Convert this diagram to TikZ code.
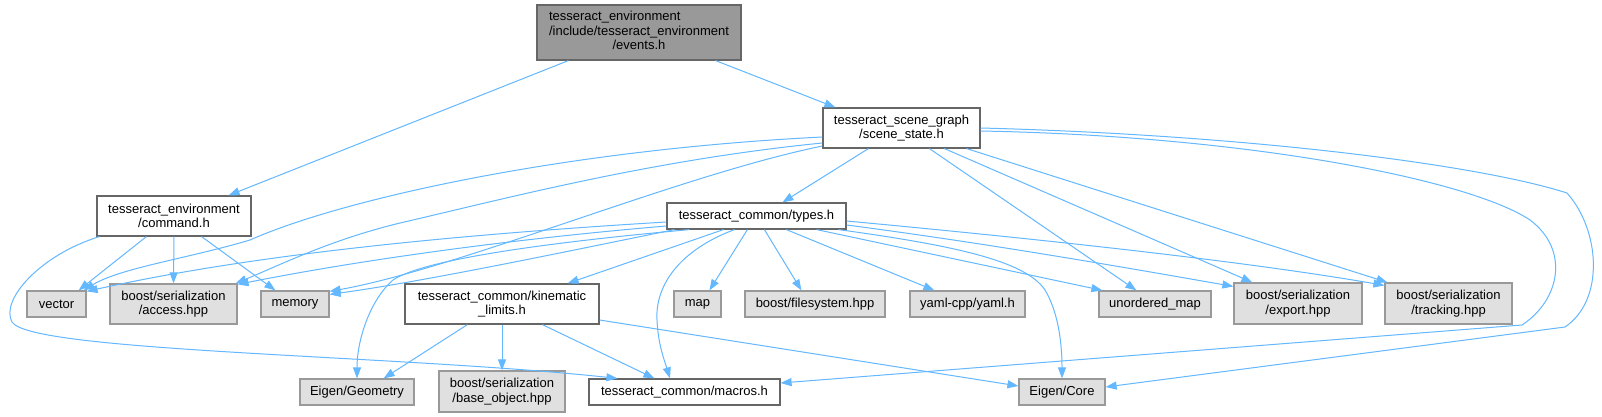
\documentclass[tikz,border=0pt]{standalone}
\usepackage{fontspec}
\setmainfont{Liberation Sans}
\usetikzlibrary{arrows.meta}
\definecolor{edgecol}{HTML}{63B8FF}
\definecolor{bordA}{HTML}{666666}
\definecolor{bordB}{HTML}{999999}
\definecolor{fillB}{HTML}{E0E0E0}
\definecolor{fillA}{HTML}{999999}
\begin{document}
\begin{tikzpicture}[x=1pt,y=-1pt,
  box/.style={draw, line width=1.2pt, inner sep=0pt, align=center, font=\fontsize{13}{14.5}\selectfont},
  wbox/.style={box, draw=bordA, fill=white},
  gbox/.style={box, draw=bordB, fill=fillB},
  mainbox/.style={box, draw=bordA, fill=fillA},
  sz/.style 2 args={minimum width=#1pt, minimum height=#2pt},
  edge/.style={draw=edgecol, color=edgecol, line width=1pt, -{Triangle[length=11pt,width=8pt]}}]
\fill[white] (0,0) rectangle (1602,417);
\useasboundingbox (0,0) rectangle (1602,417);

% nodes
\node[mainbox, sz={204}{55}] (ev) at (639,32.5) {\begin{tabular}{@{}l@{}}tesseract\_environment\\/include/tesseract\_environment\\\multicolumn{1}{@{}c@{}}{/events.h}\end{tabular}};
\node[wbox, sz={157}{40}] (ss) at (901.5,128) {tesseract\_scene\_graph\\/scene\_state.h};
\node[wbox, sz={154}{40}] (cmd) at (174,216) {tesseract\_environment\\/command.h};
\node[wbox, sz={179}{26}] (ty) at (756.5,216) {tesseract\_common/types.h};
\node[gbox, sz={59}{26}] (vec) at (56.5,304) {vector};
\node[gbox, sz={127}{40}] (acc) at (173.5,304) {boost/serialization\\/access.hpp};
\node[gbox, sz={68}{26}] (mem) at (295,304) {memory};
\node[wbox, sz={194}{40}] (kin) at (502,304) {tesseract\_common/kinematic\\\_limits.h};
\node[gbox, sz={47}{26}] (map) at (697.5,304) {map};
\node[gbox, sz={140}{26}] (fs) at (815,304) {boost/filesystem.hpp};
\node[gbox, sz={115}{26}] (yaml) at (967.5,304) {yaml-cpp/yaml.h};
\node[gbox, sz={112}{26}] (um) at (1155,304) {unordered\_map};
\node[gbox, sz={128}{41}] (exp) at (1298,303.5) {boost/serialization\\/export.hpp};
\node[gbox, sz={127}{41}] (trk) at (1448.5,303.5) {boost/serialization\\/tracking.hpp};
\node[gbox, sz={114}{26}] (geo) at (357,392) {Eigen/Geometry};
\node[gbox, sz={126}{41}] (base) at (502,391.5) {boost/serialization\\/base\_object.hpp};
\node[wbox, sz={191}{26}] (mac) at (684.5,392) {tesseract\_common/macros.h};
\node[gbox, sz={86}{26}] (core) at (1062,392) {Eigen/Core};

% events
\draw[edge] ([xshift=32pt]ev.south west) -- ([xshift=-23pt]cmd.north east);
\draw[edge] ([xshift=-26pt]ev.south east) -- ([xshift=13pt]ss.north west);
% command
\draw[edge] ([xshift=50pt]cmd.south west) -- ([xshift=-8pt]vec.north east);
\draw[edge] (cmd.south) -- (acc.north);
\draw[edge] ([xshift=-50pt]cmd.south east) -- ([xshift=15pt]mem.north west);
\draw[edge] ([xshift=3pt]cmd.south west) .. controls (40,255) and (0,300) .. (12,322) .. controls (30,352) and (400,355) .. ([xshift=29pt]mac.north west);
% scene_state
\draw[edge] ([xshift=46pt]ss.south west) -- ([xshift=116pt]ty.north west);
\draw[edge] ([yshift=-9pt]ss.west) .. controls (560,150) and (340,200) .. (250,240) .. controls (190,258) and (120,268) .. ([xshift=-3pt]vec.north east);
\draw[edge] ([yshift=-15pt]ss.west) .. controls (650,160) and (500,200) .. (400,223) .. controls (330,240) and (280,265) .. ([xshift=-2pt]acc.north east);
\draw[edge] ([yshift=-18pt]ss.west) .. controls (680,175) and (460,268) .. ([yshift=-1pt]mem.north east);
\draw[edge] ([xshift=107pt]ss.south west) -- ([xshift=38pt]um.north west);
\draw[edge] ([xshift=122pt]ss.south west) -- ([xshift=19pt]exp.north west);
\draw[edge] ([xshift=-14pt]ss.south east) -- ([xshift=3pt]trk.north west);
\draw[edge] ([yshift=-3pt]ss.east) .. controls (1250,136) and (1470,180) .. (1530,220) .. controls (1570,250) and (1560,300) .. (1522,325) -- ([yshift=9pt]mac.east);
\draw[edge] (ss.east) .. controls (1250,135) and (1480,165) .. (1567,193) .. controls (1600,230) and (1605,300) .. (1565,327) -- ([yshift=5pt]core.east);
% types
\draw[edge] ([yshift=-6pt]ty.west) .. controls (450,235) and (250,255) .. ([yshift=-1pt]vec.north east);
\draw[edge] ([yshift=-10pt]ty.west) .. controls (500,240) and (350,262) .. ([yshift=-1pt]acc.north east);
\draw[edge] ([xshift=8pt]ty.south west) .. controls (550,255) and (420,282) .. ([yshift=-4pt]mem.north east);
\draw[edge] ([xshift=23pt]ty.south west) .. controls (520,245) and (420,262) .. (393,280) .. controls (370,300) and (357,340) .. (geo.north);
\draw[edge] ([xshift=57pt]ty.south west) -- ([xshift=-32pt]kin.north east);
\draw[edge] ([xshift=68pt]ty.south west) .. controls (680,250) and (655,285) .. (657,320) .. controls (658,345) and (665,362) .. ([xshift=-14.5pt]mac.north);
\draw[edge] ([xshift=81pt]ty.south west) -- ([xshift=36pt]map.north west);
\draw[edge] ([xshift=98pt]ty.south west) -- ([xshift=57pt]fs.north west);
\draw[edge] ([xshift=120pt]ty.south west) -- ([xshift=25pt]yaml.north west);
\draw[edge] ([xshift=-30pt]ty.south east) -- ([xshift=4pt]um.north west);
\draw[edge] ([xshift=-8pt]ty.south east) .. controls (950,245) and (1025,260) .. (1045,290) .. controls (1060,315) and (1062,350) .. (core.north);
\draw[edge] ([yshift=-9pt]ty.east) .. controls (1000,245) and (1150,272) .. ([yshift=-4pt]exp.north west);
\draw[edge] ([yshift=-5pt]ty.east) .. controls (1050,240) and (1250,262) .. ([yshift=-3pt]trk.north west);
% kinematic
\draw[edge] ([xshift=63pt]kin.south west) -- ([xshift=-31pt]geo.north east);
\draw[edge] (kin.south) -- (base.north);
\draw[edge] ([xshift=138pt]kin.south west) -- ([xshift=66pt]mac.north west);
\draw[edge] ([yshift=-16pt]kin.east) -- ([yshift=6pt]core.west);
\end{tikzpicture}
\end{document}
